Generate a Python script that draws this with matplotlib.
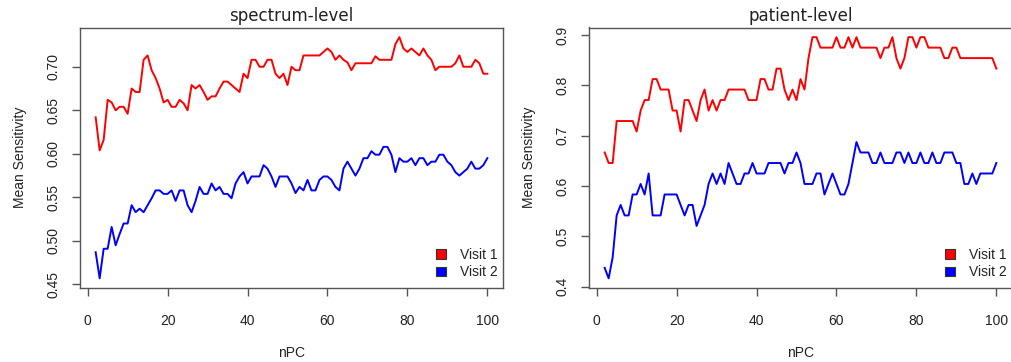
import matplotlib
matplotlib.use("Agg")
import matplotlib.pyplot as plt
from matplotlib.patches import Patch
import numpy as np

plt.rcParams['font.family'] = ['Liberation Sans', 'DejaVu Sans']

npc = list(range(2, 101))

spectrum_visit1 = [
    0.642, 0.604, 0.616, 0.662, 0.659, 0.650, 0.654, 0.654, 0.646, 0.675,
    0.671, 0.671, 0.708, 0.713, 0.696, 0.687, 0.675, 0.659, 0.662, 0.654,
    0.654, 0.662, 0.658, 0.650, 0.679, 0.675, 0.679, 0.671, 0.662, 0.666,
    0.666, 0.675, 0.683, 0.683, 0.679, 0.675, 0.671, 0.692, 0.687, 0.708,
    0.708, 0.700, 0.700, 0.708, 0.708, 0.692, 0.687, 0.692, 0.679, 0.700,
    0.696, 0.696, 0.713, 0.713, 0.713, 0.713, 0.713, 0.717, 0.721, 0.717,
    0.708, 0.713, 0.708, 0.705, 0.696, 0.704, 0.704, 0.704, 0.704, 0.704,
    0.712, 0.708, 0.708, 0.708, 0.708, 0.726, 0.734, 0.721, 0.717, 0.721,
    0.717, 0.713, 0.721, 0.713, 0.708, 0.696, 0.700, 0.700, 0.700, 0.700,
    0.704, 0.713, 0.700, 0.700, 0.700, 0.708, 0.704, 0.692, 0.692]

spectrum_visit2 = [
    0.487, 0.457, 0.491, 0.491, 0.516, 0.495, 0.508, 0.520, 0.520, 0.541,
    0.533, 0.537, 0.533, 0.541, 0.549, 0.558, 0.558, 0.554, 0.554, 0.558,
    0.546, 0.558, 0.558, 0.541, 0.533, 0.546, 0.562, 0.554, 0.554, 0.566,
    0.558, 0.562, 0.554, 0.554, 0.549, 0.566, 0.574, 0.579, 0.566, 0.574,
    0.574, 0.574, 0.587, 0.583, 0.574, 0.562, 0.574, 0.574, 0.574, 0.566,
    0.555, 0.562, 0.558, 0.570, 0.558, 0.558, 0.570, 0.574, 0.574, 0.570,
    0.562, 0.558, 0.583, 0.591, 0.583, 0.575, 0.583, 0.595, 0.595, 0.603,
    0.599, 0.599, 0.608, 0.608, 0.599, 0.579, 0.595, 0.591, 0.591, 0.595,
    0.587, 0.595, 0.595, 0.587, 0.591, 0.591, 0.599, 0.599, 0.591, 0.587,
    0.579, 0.575, 0.579, 0.583, 0.591, 0.583, 0.583, 0.587, 0.595]

patient_visit1 = [
    0.6667, 0.6458, 0.6458, 0.7292, 0.7292, 0.7292, 0.7292, 0.7292, 0.7083, 0.7500,
    0.7708, 0.7708, 0.8125, 0.8125, 0.7917, 0.7917, 0.7917, 0.7500, 0.7500, 0.7083,
    0.7708, 0.7708, 0.7500, 0.7292, 0.7708, 0.7917, 0.7500, 0.7708, 0.7500, 0.7708,
    0.7708, 0.7917, 0.7917, 0.7917, 0.7917, 0.7917, 0.7708, 0.7708, 0.7708, 0.8125,
    0.8125, 0.7917, 0.7917, 0.8333, 0.8333, 0.7917, 0.7708, 0.7917, 0.7708, 0.8125,
    0.7917, 0.8542, 0.8958, 0.8958, 0.8750, 0.8750, 0.8750, 0.8750, 0.8958, 0.8750,
    0.8750, 0.8958, 0.8750, 0.8958, 0.8750, 0.8750, 0.8750, 0.8750, 0.8750, 0.8542,
    0.8750, 0.8750, 0.8958, 0.8542, 0.8333, 0.8542, 0.8958, 0.8958, 0.8750, 0.8958,
    0.8958, 0.8750, 0.8750, 0.8750, 0.8750, 0.8542, 0.8542, 0.8750, 0.8750, 0.8542,
    0.8542, 0.8542, 0.8542, 0.8542, 0.8542, 0.8542, 0.8542, 0.8542, 0.8333]

patient_visit2 = [
    0.4375, 0.4167, 0.4583, 0.5417, 0.5625, 0.5417, 0.5417, 0.5833, 0.5833, 0.6042,
    0.5833, 0.6250, 0.5417, 0.5417, 0.5417, 0.5833, 0.5833, 0.5833, 0.5833, 0.5625,
    0.5417, 0.5625, 0.5625, 0.5208, 0.5417, 0.5625, 0.6042, 0.6250, 0.6042, 0.6250,
    0.6042, 0.6458, 0.6250, 0.6042, 0.6042, 0.6250, 0.6250, 0.6458, 0.6250, 0.6250,
    0.6250, 0.6458, 0.6458, 0.6458, 0.6458, 0.6250, 0.6458, 0.6458, 0.6667, 0.6458,
    0.6042, 0.6042, 0.6042, 0.6250, 0.6250, 0.5833, 0.6042, 0.6250, 0.6042, 0.5833,
    0.5833, 0.6042, 0.6458, 0.6875, 0.6667, 0.6667, 0.6667, 0.6458, 0.6458, 0.6667,
    0.6458, 0.6458, 0.6458, 0.6667, 0.6667, 0.6458, 0.6667, 0.6458, 0.6458, 0.6667,
    0.6458, 0.6458, 0.6667, 0.6458, 0.6458, 0.6667, 0.6667, 0.6667, 0.6458, 0.6458,
    0.6042, 0.6042, 0.6250, 0.6042, 0.6250, 0.6250, 0.6250, 0.6250, 0.6458]

titles = ["spectrum-level", "patient-level"]
yticks_left = [0.45, 0.50, 0.55, 0.60, 0.65, 0.70]
yticks_right = [0.4, 0.5, 0.6, 0.7, 0.8, 0.9]
xticks = [0, 20, 40, 60, 80, 100]
legend_labels = ["Visit 1", "Visit 2"]

W, H = 1012, 362
fig = plt.figure(figsize=(W / 100, H / 100), dpi=100)

axc = '#555555'
txtc = '#222222'

def r_range(vals):
    lo, hi = min(vals), max(vals)
    pad = (hi - lo) * 0.04
    return lo - pad, hi + pad

panels = [
    (80, spectrum_visit1, spectrum_visit2, yticks_left, "{:.2f}"),
    (589, patient_visit1, patient_visit2, yticks_right, "{:.1f}"),
]
for i, (x0, v1, v2, yt, fmt) in enumerate(panels):
    ax = fig.add_axes([x0 / W, 74 / H, 423 / W, 260.5 / H])
    ax.plot(npc, v1, color='#ff0000', lw=1.4)
    ax.plot(npc, v2, color='#0000ff', lw=1.4)
    ax.set_xlim(r_range(npc))
    ax.set_ylim(r_range(v1 + v2))
    ax.set_xticks(xticks)
    ax.set_xticklabels([str(t) for t in xticks])
    ax.set_yticks(yt)
    ax.set_yticklabels([fmt.format(t) for t in yt], rotation=90, va='center')
    for s in ax.spines.values():
        s.set_color(axc)
        s.set_linewidth(1.0)
    ax.tick_params(axis='both', length=6, width=1.0, color=axc,
                   labelsize=10, labelcolor=txtc)
    ax.tick_params(axis='x', pad=12.5)
    ax.tick_params(axis='y', pad=8)
    ax.set_title(titles[i], fontsize=12, color=txtc, pad=4.8,
                 family='DejaVu Sans')
    ax.set_xlabel("nPC", fontsize=10, color=txtc, labelpad=13)
    ax.set_ylabel("Mean Sensitivity", fontsize=10, color=txtc, labelpad=14)
    handles = [Patch(facecolor='#ff0000', edgecolor='#333333', lw=0.8),
               Patch(facecolor='#0000ff', edgecolor='#333333', lw=0.8)]
    ax.legend(handles, legend_labels, loc='lower right', frameon=False,
              fontsize=10, handlelength=0.72, handleheight=0.72,
              handletextpad=1.0, labelspacing=0.26, borderaxespad=0,
              borderpad=0.4, bbox_to_anchor=(1.0, 0.012),
              labelcolor=txtc)

fig.savefig("out.png", dpi=100, facecolor='white')
